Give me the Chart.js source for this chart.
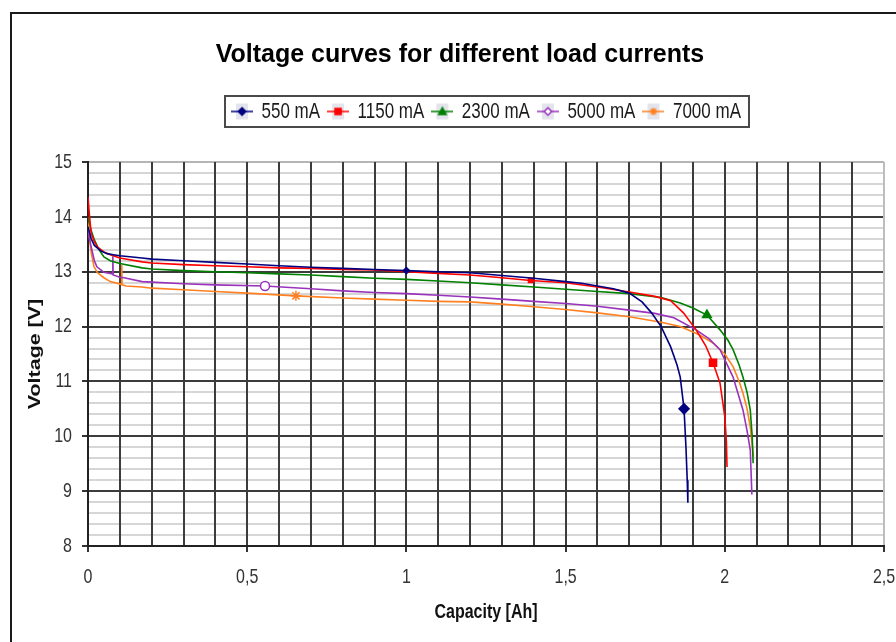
<!DOCTYPE html>
<html><head><meta charset="utf-8">
<script src="https://cdn.jsdelivr.net/npm/chart.js@4"></script>
<style>
html,body{margin:0;padding:0;background:#fff;overflow:hidden;width:896px;height:642px;}
#frame{position:absolute;left:10px;top:12px;width:2000px;height:2000px;border-left:2px solid #1a1a1a;border-top:2px solid #1a1a1a;box-sizing:border-box;}
#wrap{position:absolute;left:0;top:0;width:920px;height:642px;}
</style></head><body>
<div id="frame"></div>
<div id="wrap"><canvas id="c" width="920" height="642"></canvas></div>
<script>
// ---- data ----
const chartTitle = 'Voltage curves for different load currents';
const seriesLabels = ['550 mA', '1150 mA', '2300 mA', '5000 mA', '7000 mA'];

const cap550  = [0, 0.01, 0.02, 0.04, 0.06, 0.08, 0.1, 0.17, 0.2, 0.3, 0.4, 0.5, 0.6, 0.7, 0.8, 0.9, 1.0, 1.1, 1.2, 1.3, 1.4, 1.5, 1.55, 1.6, 1.65, 1.7, 1.74, 1.77, 1.8, 1.83, 1.85, 1.86, 1.872, 1.878, 1.882, 1.884];
const volt550 = [13.82, 13.6, 13.48, 13.38, 13.33, 13.31, 13.29, 13.25, 13.23, 13.2, 13.17, 13.14, 13.11, 13.08, 13.06, 13.04, 13.02, 13.0, 12.98, 12.93, 12.88, 12.82, 12.79, 12.74, 12.69, 12.61, 12.45, 12.25, 12.0, 11.63, 11.3, 11.08, 10.5, 9.8, 9.2, 8.79];
const mark550 = [16, 32];

const cap1150  = [0, 0.005, 0.01, 0.02, 0.03, 0.05, 0.07, 0.1, 0.17, 0.2, 0.3, 0.4, 0.5, 0.6, 0.7, 0.8, 0.9, 1.0, 1.1, 1.2, 1.3, 1.39, 1.5, 1.6, 1.7, 1.78, 1.83, 1.87, 1.91, 1.94, 1.963, 1.985, 2.0, 2.005, 2.007];
const volt1150 = [14.36, 14.0, 13.7, 13.55, 13.45, 13.36, 13.31, 13.25, 13.18, 13.16, 13.13, 13.11, 13.09, 13.07, 13.06, 13.04, 13.03, 13.0, 12.97, 12.94, 12.89, 12.84, 12.80, 12.72, 12.63, 12.55, 12.47, 12.25, 11.94, 11.65, 11.34, 10.97, 10.36, 9.9, 9.44];
const mark1150 = [21, 30];

const cap2300  = [0, 0.01, 0.02, 0.035, 0.05, 0.07, 0.1, 0.17, 0.2, 0.3, 0.4, 0.5, 0.6, 0.7, 0.8, 0.9, 1.0, 1.1, 1.2, 1.3, 1.4, 1.5, 1.6, 1.7, 1.8, 1.86, 1.9, 1.944, 1.985, 2.01, 2.026, 2.045, 2.057, 2.07, 2.08, 2.086, 2.089];
const volt2300 = [14.0, 13.75, 13.58, 13.4, 13.27, 13.2, 13.15, 13.07, 13.05, 13.02, 13.0, 12.98, 12.96, 12.94, 12.91, 12.88, 12.86, 12.83, 12.8, 12.76, 12.72, 12.68, 12.64, 12.6, 12.53, 12.43, 12.34, 12.21, 11.94, 11.75, 11.58, 11.3, 11.08, 10.8, 10.48, 10.0, 9.51];
const mark2300 = [27];

const cap5000  = [0, 0.01, 0.02, 0.028, 0.05, 0.077, 0.078, 0.079, 0.1, 0.113, 0.17, 0.2, 0.3, 0.4, 0.556, 0.7, 0.8, 0.9, 1.0, 1.1, 1.2, 1.3, 1.4, 1.5, 1.6, 1.7, 1.78, 1.84, 1.91, 1.95, 1.985, 2.026, 2.057, 2.07, 2.08, 2.085];
const volt5000 = [13.75, 13.45, 13.2, 13.09, 12.99, 12.96, 13.28, 12.94, 12.9, 12.89, 12.82, 12.81, 12.78, 12.76, 12.74, 12.69, 12.65, 12.62, 12.6, 12.57, 12.54, 12.5, 12.46, 12.42, 12.37, 12.3, 12.24, 12.16, 11.94, 11.78, 11.58, 11.08, 10.48, 10.1, 9.75, 8.94];
const mark5000 = [14];

const cap7000  = [0, 0.005, 0.01, 0.019, 0.03, 0.05, 0.07, 0.105, 0.106, 0.107, 0.12, 0.17, 0.2, 0.3, 0.4, 0.5, 0.653, 0.8, 0.9, 1.0, 1.1, 1.2, 1.3, 1.4, 1.5, 1.6, 1.7, 1.8, 1.86, 1.92, 1.963, 2.0, 2.026, 2.045, 2.057, 2.07, 2.08, 2.09];
const volt7000 = [13.9, 13.6, 13.35, 13.09, 12.98, 12.89, 12.82, 12.77, 13.12, 12.76, 12.74, 12.72, 12.7, 12.67, 12.64, 12.61, 12.56, 12.52, 12.5, 12.48, 12.46, 12.45, 12.41, 12.36, 12.31, 12.25, 12.18, 12.08, 12.0, 11.85, 11.7, 11.5, 11.27, 11.0, 10.79, 10.5, 10.17, 9.63];
const mark7000 = [16];

const xTickLabels = ['0', '0,5', '1', '1,5', '2', '2,5'];
const yTickLabels = ['8', '9', '10', '11', '12', '13', '14', '15'];

// ---- styles ----
const SANS = "'Liberation Sans', Arial, sans-serif";
const TEXT_STRETCH = 1.3; // reference text is drawn vertically stretched
const styles = [
  {color: '#000080', point: 'rectRot', fill: '#000080', radii: [3, 5]},
  {color: '#ff0000', point: 'rect',    fill: '#ff0000', radii: [3, 5]},
  {color: '#008000', point: 'triangle', fill: '#008000', radii: [5]},
  {color: '#9933bb', point: 'circle',  fill: '#ffffff', radii: [4.5], legendPoint: 'rectRot'},
  {color: '#ff8020', point: 'star',    fill: '#ff8020', radii: [5]}
];
const caps = [cap550, cap1150, cap2300, cap5000, cap7000];
const volts = [volt550, volt1150, volt2300, volt5000, volt7000];
const marks = [mark550, mark1150, mark2300, mark5000, mark7000];

function drawMarker(g, style, x, y, r, stroke, fill) {
  g.save();
  g.strokeStyle = stroke; g.fillStyle = fill; g.lineWidth = 1.5;
  g.beginPath();
  if (style === 'rectRot') {
    g.moveTo(x, y - r); g.lineTo(x + r, y); g.lineTo(x, y + r); g.lineTo(x - r, y); g.closePath();
    g.fill(); g.stroke();
  } else if (style === 'rect') {
    g.rect(x - r * 0.8, y - r * 0.8, r * 1.6, r * 1.6); g.fill(); g.stroke();
  } else if (style === 'triangle') {
    g.moveTo(x, y - r); g.lineTo(x + r, y + r * 0.8); g.lineTo(x - r, y + r * 0.8); g.closePath();
    g.fill(); g.stroke();
  } else if (style === 'star') {
    for (let k = 0; k < 4; k++) {
      const a = k * Math.PI / 4;
      g.moveTo(x - r * Math.cos(a), y - r * Math.sin(a));
      g.lineTo(x + r * Math.cos(a), y + r * Math.sin(a));
    }
    g.stroke();
  } else {
    g.arc(x, y, r, 0, Math.PI * 2); g.fill(); g.stroke();
  }
  g.restore();
}

function makeIcon(st) {
  const c = document.createElement('canvas');
  c.width = 22; c.height = 18;
  const g = c.getContext('2d');
  g.fillStyle = '#e4e4ec';
  g.fillRect(5, 1, 12, 16);
  g.strokeStyle = st.color; g.lineWidth = 1.5;
  g.beginPath(); g.moveTo(0, 9); g.lineTo(22, 9); g.stroke();
  drawMarker(g, st.legendPoint || st.point, 11, 9, 3.8, st.color, st.fill);
  return c;
}
const icons = styles.map(makeIcon);

const datasets = seriesLabels.map((label, i) => ({
  label,
  data: caps[i].map((x, j) => ({x, y: volts[i][j]})),
  borderColor: styles[i].color,
  backgroundColor: styles[i].fill,
  borderWidth: 1.6,
  tension: 0,
  fill: false,
  pointStyle: styles[i].point,
  pointBorderColor: styles[i].color,
  pointBackgroundColor: styles[i].fill,
  pointBorderWidth: 1.5,
  pointRadius: ctx => {
    const k = marks[i].indexOf(ctx.dataIndex);
    return k < 0 ? 0 : styles[i].radii[k];
  },
  pointHoverRadius: 0
}));

const isInt = v => Math.abs(v - Math.round(v)) < 1e-6;
const isHalf = v => Math.abs(v * 2 - Math.round(v * 2)) < 1e-6;

function spacer(position, weight, size) {
  const horiz = position === 'top' || position === 'bottom';
  return {
    position, weight, fullSize: false,
    options: {stackWeight: 1},
    left: 0, top: 0, right: 0, bottom: 0, width: 0, height: 0,
    isHorizontal() { return horiz; },
    getPadding() { return {top: 0, left: 0, right: 0, bottom: 0}; },
    update(maxWidth, maxHeight) {
      if (horiz) { this.width = maxWidth; this.height = size; }
      else { this.width = size; this.height = maxHeight; }
      return {};
    },
    draw() {}
  };
}
const spacers = {
  id: 'spacers',
  beforeInit(chart) {
    Chart.layouts.addBox(chart, spacer('top', 500, 32));
    Chart.layouts.addBox(chart, spacer('right', 0, 36));
  }
};

const legendBorder = {
  id: 'legendBorder',
  afterDraw(chart) {
    const lg = chart.legend;
    if (!lg || !lg.legendHitBoxes || !lg.legendHitBoxes.length) return;
    const hb = lg.legendHitBoxes;
    const l = Math.min(...hb.map(h => h.left)) - 6;
    const r = Math.max(...hb.map(h => h.left + h.width)) + 8;
    const t = hb[0].top - 7;
    const b = hb[0].top + hb[0].height + 7;
    const ctx = chart.ctx;
    ctx.save();
    ctx.strokeStyle = '#4a4a4a'; ctx.lineWidth = 2;
    ctx.strokeRect(Math.round(l), Math.round(t), Math.round(r - l), Math.round(b - t));
    ctx.restore();
  }
};

// stretch all text except the title vertically (in screen space), like the reference
const canvas = document.getElementById('c');
const ctx2d = canvas.getContext('2d');
const rawFillText = ctx2d.fillText.bind(ctx2d);
ctx2d.fillText = function (text, x, y, maxWidth) {
  const args = maxWidth === undefined ? [text, x, y] : [text, x, y, maxWidth];
  if (text === chartTitle) return rawFillText(...args);
  const m = this.getTransform();
  const py = m.b * x + m.d * y + m.f;
  this.save();
  this.setTransform(1, 0, 0, TEXT_STRETCH, 0, py * (1 - TEXT_STRETCH));
  this.transform(m.a, m.b, m.c, m.d, m.e, m.f);
  rawFillText(...args);
  this.restore();
};

new Chart(canvas, {
  type: 'line',
  data: {datasets},
  plugins: [spacers, legendBorder],
  options: {
    responsive: false,
    animation: false,
    devicePixelRatio: 1,
    events: [],
    layout: {padding: 0},
    plugins: {
      title: {
        display: true,
        text: chartTitle,
        color: '#000',
        font: {family: SANS, size: 25, weight: 'bold'},
        padding: {top: 40, bottom: 26}
      },
      legend: {
        display: true,
        position: 'top',
        fullSize: false,
        labels: {
          usePointStyle: true,
          pointStyleWidth: 22,
          padding: 7,
          color: '#1a1a1a',
          font: {family: SANS, size: 17},
          generateLabels(chart) {
            const items = Chart.defaults.plugins.legend.labels.generateLabels(chart);
            items.forEach((it, i) => { it.pointStyle = icons[i]; });
            return items;
          }
        }
      },
      tooltip: {enabled: false}
    },
    scales: {
      x: {
        type: 'linear',
        min: 0, max: 2.5,
        ticks: {
          stepSize: 0.1, autoSkip: false, maxRotation: 0, padding: 16,
          color: '#333', font: {family: SANS, size: 16},
          callback: v => isHalf(v) ? xTickLabels[Math.round(v * 2)] : ''
        },
        grid: {
          color: c => (Math.abs(c.tick.value - 2.5) < 1e-6 ? '#bdbdbd' : '#3c3c3c'),
          lineWidth: 2,
          tickLength: 6,
          tickWidth: 2,
          tickColor: c => (c.tick && isHalf(c.tick.value) ? '#333' : 'rgba(0,0,0,0)')
        },
        border: {color: '#222', width: 2},
        title: {
          display: true, text: 'Capacity [Ah]', color: '#111',
          font: {family: SANS, size: 16, weight: 'bold'},
          padding: {top: 0, bottom: 20}
        },
        afterFit: s => { s.height = 96; }
      },
      y: {
        type: 'linear',
        min: 8, max: 15,
        ticks: {
          stepSize: 0.2, autoSkip: false, padding: 10,
          color: '#333', font: {family: SANS, size: 16},
          callback: v => isInt(v) ? yTickLabels[Math.round(v) - 8] : ''
        },
        grid: {
          z: -2,
          color: c => (Math.abs(c.tick.value - 15) < 1e-6 ? '#b5b5b5' : (isInt(c.tick.value) ? '#3c3c3c' : '#d6d6d6')),
          lineWidth: 2,
          tickLength: 6,
          tickWidth: 2,
          tickColor: c => (c.tick && isInt(c.tick.value) ? '#333' : 'rgba(0,0,0,0)')
        },
        border: {color: '#222', width: 2},
        title: {
          display: true, text: 'Voltage [V]', color: '#111',
          font: {family: SANS, size: 16.5, weight: 'bold'},
          padding: {top: 26, bottom: 0}
        },
        afterFit: s => { s.width = 88; }
      }
    }
  }
});
</script>
</body></html>
